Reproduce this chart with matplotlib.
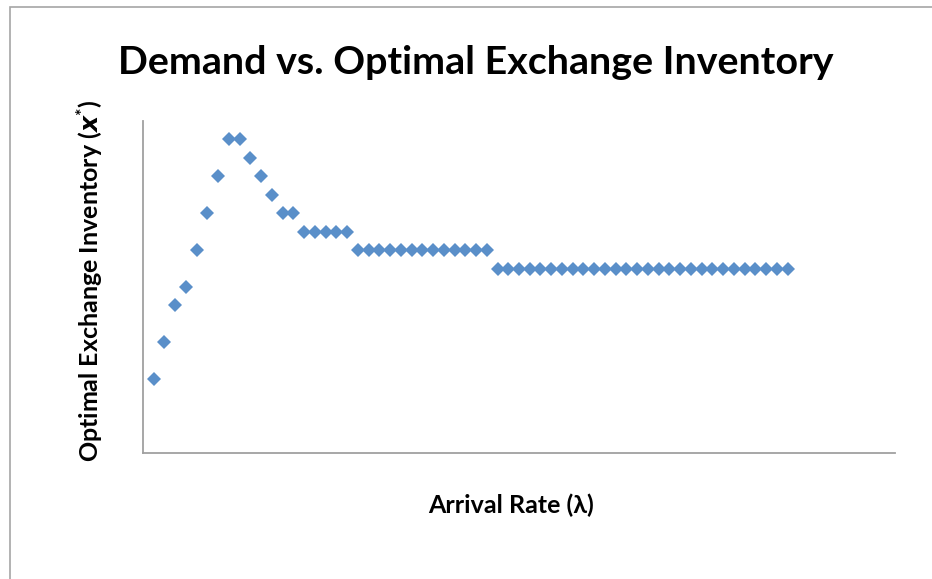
# demand_vs_inventory.py
# Scatter of optimal exchange inventory against arrival rate

import numpy as np
import matplotlib.pyplot as plt
from matplotlib.patches import Rectangle

# -------------------------------
# Data (arrival rate steps 1..60, inventory levels)
# -------------------------------
arrival_rate = list(range(1, 61))
optimal_inventory = ([4, 6, 8, 9, 11, 13, 15, 17, 17, 16, 15, 14, 13, 13]
                     + [12] * 5 + [11] * 13 + [10] * 28)

x_limits = (0, 70)
y_limits = (0, 18)

title_text = "Demand vs. Optimal Exchange Inventory"
x_label = "Arrival Rate (λ)"
y_label = r"Optimal Exchange Inventory ($\boldsymbol{x}^{*}$)"

plt.rcParams['font.family'] = ['Lato', 'DejaVu Sans']
plt.rcParams['mathtext.fontset'] = 'custom'
plt.rcParams['mathtext.it'] = 'Lato:italic:bold'
plt.rcParams['mathtext.bf'] = 'Lato:italic:bold'
plt.rcParams['mathtext.rm'] = 'Lato:bold'

fig = plt.figure(figsize=(9.32, 5.79), dpi=100)

# outer chart border, like the Excel chart area
fig.patches.append(Rectangle((10 / 932, -0.05), 1.0, 1 - 6.5 / 579 + 0.05,
                             transform=fig.transFigure, fill=False,
                             edgecolor="#a6a6a6", linewidth=1.2))

ax = fig.add_axes([143 / 932, 1 - 453 / 579, (895 - 143) / 932, (453 - 121) / 579])
ax.plot(arrival_rate, optimal_inventory, linestyle="none", marker="D",
        markersize=6.8, markeredgewidth=0, color="#5a8fc9")

ax.set_xlim(*x_limits)
ax.set_ylim(*y_limits)
ax.set_xticks([])
ax.set_yticks([])
for side in ["top", "right"]:
    ax.spines[side].set_visible(False)
for side in ["left", "bottom"]:
    ax.spines[side].set_color("#a0a0a0")
    ax.spines[side].set_linewidth(1.3)

fig.text(475.5 / 932, 1 - 63 / 579, title_text, ha="center", va="center",
         fontsize=28.4, fontweight="bold")
fig.text(511 / 932, 1 - 505 / 579, x_label, ha="center", va="center",
         fontsize=18, fontweight="bold")
fig.text(90 / 932, 1 - 281 / 579, y_label, ha="center", va="center",
         rotation=90, fontsize=18, fontweight="bold")

fig.savefig("out.png", dpi=100)
